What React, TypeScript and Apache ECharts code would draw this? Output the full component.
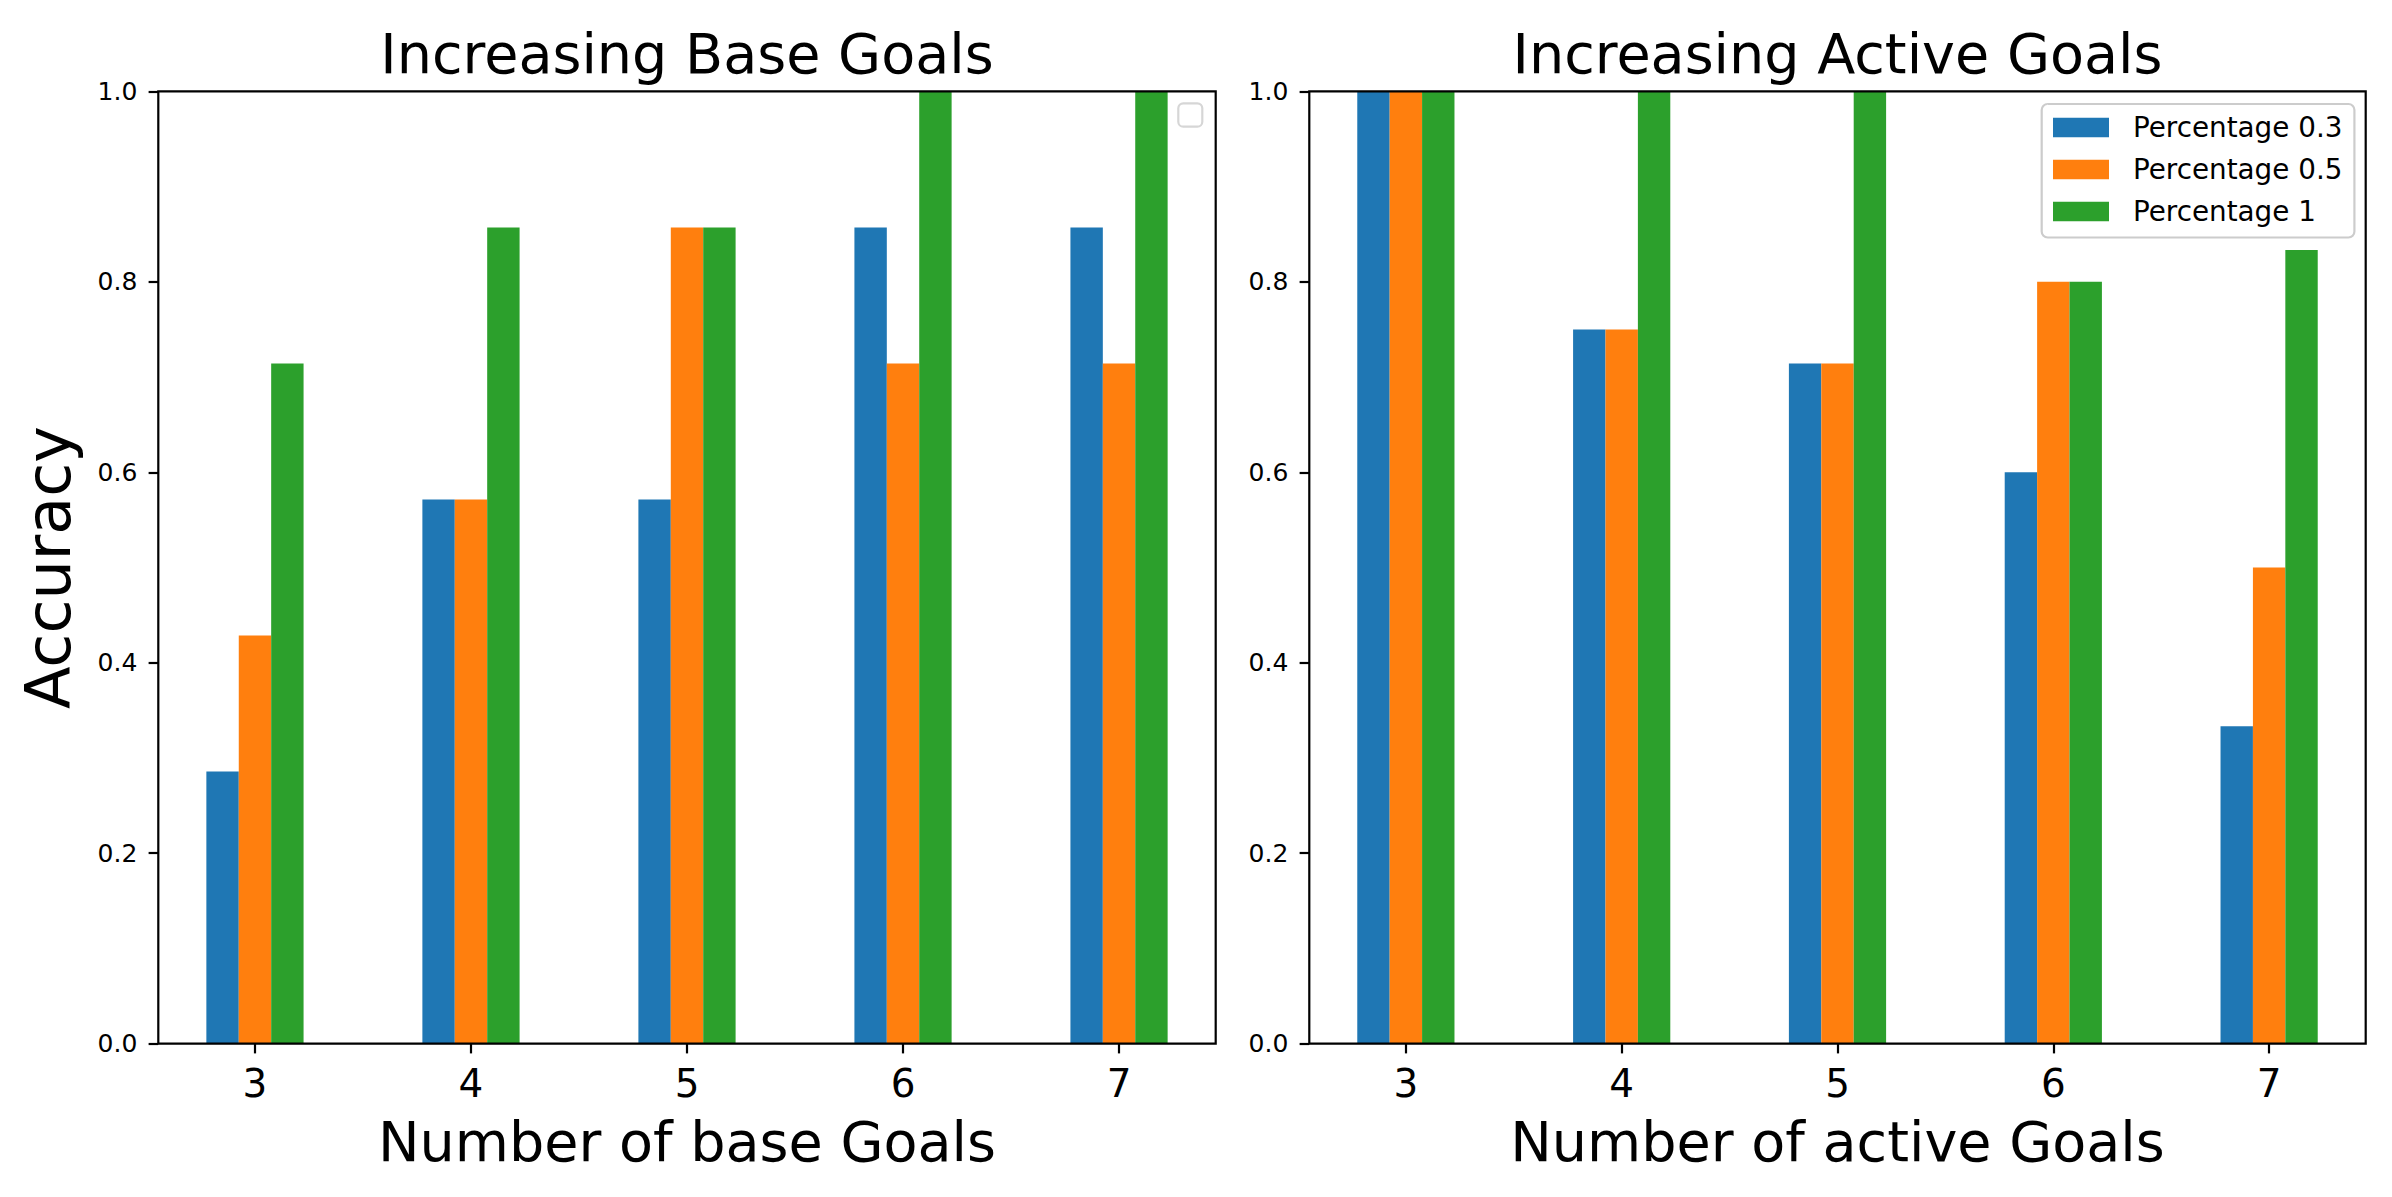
import React, { useEffect, useRef } from "react";
import * as echarts from "echarts";

const CATEGORIES = [3, 4, 5, 6, 7];
const SERIES_NAMES = ["Percentage 0.3", "Percentage 0.5", "Percentage 1"];
const COLORS = ["#1f77b4", "#ff7f0e", "#2ca02c"];

const BASE_P03 = [0.2857, 0.5714, 0.5714, 0.8571, 0.8571];
const BASE_P05 = [0.4286, 0.5714, 0.8571, 0.7143, 0.7143];
const BASE_P1 = [0.7143, 0.8571, 0.8571, 1.0, 1.0];

const ACTIVE_P03 = [1.0, 0.75, 0.7143, 0.6, 0.3333];
const ACTIVE_P05 = [1.0, 0.75, 0.7143, 0.8, 0.5];
const ACTIVE_P1 = [1.0, 1.0, 1.0, 0.8, 0.8333];

const TITLES = ["Increasing Base Goals", "Increasing Active Goals"];
const X_NAMES = ["Number of base Goals", "Number of active Goals"];
const Y_NAME = "Accuracy";

const FONT = "DejaVu Sans";
const W = 2392;
const H = 1197;
const GRIDS = [
  { left: 158.3, top: 91.3, width: 1057.4, height: 952.4 },
  { left: 1309.3, top: 91.3, width: 1056.4, height: 952.4 },
];
const X_MARGIN = 0.4475;
const LW = 2.2;

export default function App() {
  const ref = useRef<HTMLDivElement>(null);
  useEffect(() => {
    if (!ref.current) return;
    const chart = echarts.init(ref.current, null, { renderer: "svg" });
    const groups = [
      [BASE_P03, BASE_P05, BASE_P1],
      [ACTIVE_P03, ACTIVE_P05, ACTIVE_P1],
    ];
    const xMin = CATEGORIES[0] - X_MARGIN;
    const xMax = CATEGORIES[CATEGORIES.length - 1] + X_MARGIN;

    const xAxis = GRIDS.map((g, i) => ({
      type: "value",
      gridIndex: i,
      min: xMin,
      max: xMax,
      splitLine: { show: false },
      axisLine: { show: false },
      axisTick: {
        show: true,
        customValues: CATEGORIES,
        length: 9.7,
        lineStyle: { color: "#000", width: LW },
      },
      axisLabel: {
        show: true,
        customValues: CATEGORIES,
        fontSize: 38.9,
        fontFamily: FONT,
        color: "#000",
        margin: 20,
        formatter: (v: number) => String(v),
      },
    }));
    const yAxis = GRIDS.map((g, i) => ({
      type: "value",
      gridIndex: i,
      min: 0,
      max: 1,
      interval: 0.2,
      splitLine: { show: false },
      axisLine: { show: false },
      axisTick: { show: true, length: 9.7, lineStyle: { color: "#000", width: LW } },
      axisLabel: {
        fontSize: 25,
        fontFamily: FONT,
        color: "#000",
        margin: 21,
        formatter: (v: number) => v.toFixed(1),
      },
    }));

    const barW = (0.15 * GRIDS[0].width) / (xMax - xMin);
    const series: any[] = [];
    groups.forEach((grp, gi) => {
      grp.forEach((vals, si) => {
        series.push({
          type: "bar",
          name: SERIES_NAMES[si],
          xAxisIndex: gi,
          yAxisIndex: gi,
          barWidth: barW,
          barGap: "0%",
          itemStyle: { color: COLORS[si] },
          data: CATEGORIES.map((c, k) => [c, vals[k]]),
        });
      });
    });

    const graphic: any[] = [];
    GRIDS.forEach((g, i) => {
      graphic.push({
        type: "rect",
        z: 100,
        shape: { x: g.left, y: g.top, width: g.width, height: g.height },
        style: { fill: "none", stroke: "#000", lineWidth: LW },
      });
      graphic.push({
        type: "text",
        z: 100,
        x: g.left + g.width / 2,
        y: 53.7,
        style: {
          text: TITLES[i],
          fontSize: 55.6,
          fontFamily: FONT,
          fill: "#000",
          align: "center",
          verticalAlign: "middle",
        },
      });
      graphic.push({
        type: "text",
        z: 100,
        x: g.left + g.width / 2,
        y: 1141,
        style: {
          text: X_NAMES[i],
          fontSize: 55.6,
          fontFamily: FONT,
          fill: "#000",
          align: "center",
          verticalAlign: "middle",
        },
      });
    });
    graphic.push({
      type: "text",
      z: 100,
      x: 48.5,
      y: GRIDS[0].top + GRIDS[0].height / 2,
      rotation: Math.PI / 2,
      style: {
        text: Y_NAME,
        fontSize: 62,
        fontFamily: FONT,
        fill: "#000",
        align: "center",
        verticalAlign: "middle",
      },
    });
    // empty legend frame in the left panel
    graphic.push({
      type: "rect",
      z: 100,
      shape: { x: 1178.3, y: 103.3, width: 24, height: 23.4, r: 5 },
      style: { fill: "#fff", stroke: "#d6d6d6", lineWidth: 2.2 },
    });

    chart.setOption({
      animation: false,
      backgroundColor: "#fff",
      grid: GRIDS.map((g) => ({ ...g, containLabel: false, show: false })),
      xAxis,
      yAxis,
      series,
      legend: {
        data: SERIES_NAMES,
        orient: "vertical",
        left: 2041.7,
        top: 104,
        itemWidth: 56,
        itemHeight: 19.6,
        itemGap: 14,
        icon: "rect",
        selectedMode: false,
        padding: [9.5, 12, 12, 11.3],
        backgroundColor: "rgba(255,255,255,0.8)",
        borderColor: "#cccccc",
        borderWidth: 2.2,
        borderRadius: 6,
        textStyle: {
          fontSize: 27.8,
          fontFamily: FONT,
          color: "#000",
          lineHeight: 28,
          padding: [0, 0, 0, 19],
        },
      },
      graphic,
    });
    return () => chart.dispose();
  }, []);
  return (
    <>
      <style>{"body{margin:0}"}</style>
      <div ref={ref} style={{ width: W, height: H }} />
    </>
  );
}
